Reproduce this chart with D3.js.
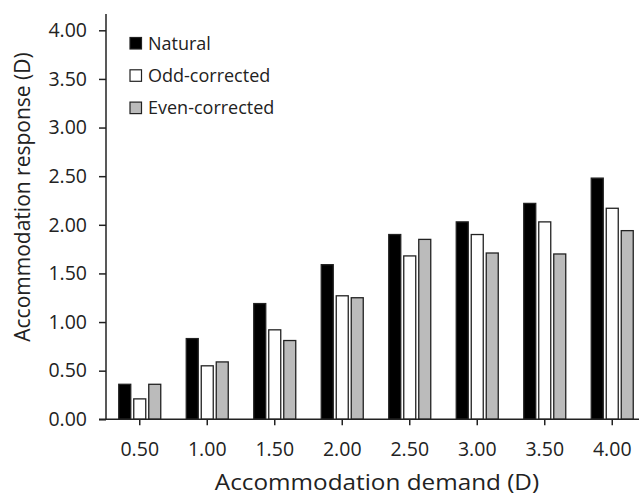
<!DOCTYPE html>
<html><head><meta charset="utf-8">
<script src="https://cdn.jsdelivr.net/npm/d3@7"></script>
<style>body{margin:0;background:#fff}svg{display:block}text{font-family:"Open Sans",sans-serif;fill:#222}</style>
</head><body>
<script>
const categories = ["0.50","1.00","1.50","2.00","2.50","3.00","3.50","4.00"];
const seriesNames = ["Natural","Odd-corrected","Even-corrected"];
const natural = [0.36,0.83,1.19,1.59,1.90,2.03,2.22,2.48];
const oddCorrected = [0.21,0.55,0.92,1.27,1.68,1.90,2.03,2.17];
const evenCorrected = [0.36,0.59,0.81,1.25,1.85,1.71,1.70,1.94];
const yTicks = [0,0.5,1,1.5,2,2.5,3,3.5,4];
const seriesValues = [natural, oddCorrected, evenCorrected];
const colors = ["#000000","#ffffff","#bbbbbb"];

const W=639,H=497;
const svg=d3.select("body").append("svg").attr("width",W).attr("height",H);
const x0=d3.scaleBand().domain(categories).range([106,646]).padding(0);
const x1=d3.scaleBand().domain(seriesNames).range([0,42]).paddingInner(0.2);
const off=(x0.bandwidth()-42)/2;
const y=d3.scaleLinear().domain([0,4]).range([419.3,30.3]);

// bars
categories.forEach((c,i)=>{
  seriesNames.forEach((s,j)=>{
    const v=seriesValues[j][i];
    svg.append("rect").attr("x",x0(c)+off+x1(s)).attr("y",y(v))
      .attr("width",x1.bandwidth()).attr("height",y(0)-y(v))
      .attr("fill",colors[j]).attr("stroke","#222").attr("stroke-width",1.3);
  });
});

// y axis
const ya=svg.append("g").attr("transform","translate(106,0)")
  .call(d3.axisLeft(y).tickValues(yTicks).tickFormat(d3.format(".2f")).tickSizeOuter(0).tickSize(7).tickPadding(12));
ya.select(".domain").remove();
ya.selectAll("line").attr("stroke","#222").attr("stroke-width",1.5);
ya.selectAll("text").style("font-size","19.5px").style("fill","#222");
svg.append("line").attr("x1",106).attr("x2",106).attr("y1",14).attr("y2",419.3).attr("stroke","#222").attr("stroke-width",1.5);

// x axis
const xa=svg.append("g").attr("transform","translate(0,419.3)")
  .call(d3.axisBottom(x0).tickSizeOuter(0).tickSize(6).tickPadding(17));
xa.select(".domain").remove();
xa.selectAll("line").attr("stroke","#222").attr("stroke-width",1.5);
xa.selectAll("text").style("font-size","19.5px").style("fill","#222");
svg.append("line").attr("x1",99).attr("x2",W).attr("y1",419.3).attr("y2",419.3).attr("stroke","#222").attr("stroke-width",1.5);

// titles
svg.append("text").attr("transform","translate(377,490) scale(1.13,1)").attr("text-anchor","middle").style("font-size","21.5px").text("Accommodation demand (D)");
svg.append("text").attr("transform","translate(30,197) rotate(-90)").attr("text-anchor","middle").style("font-size","21px").text("Accommodation response (D)");

// legend
seriesNames.forEach((s,j)=>{
  const ly=37.5+j*32.3;
  svg.append("rect").attr("x",130).attr("y",ly).attr("width",11.5).attr("height",11.5)
    .attr("fill",colors[j]).attr("stroke","#222").attr("stroke-width",1.2);
  svg.append("text").attr("x",148).attr("y",ly+12).style("font-size","18px").text(s);
});
</script>
</body></html>
